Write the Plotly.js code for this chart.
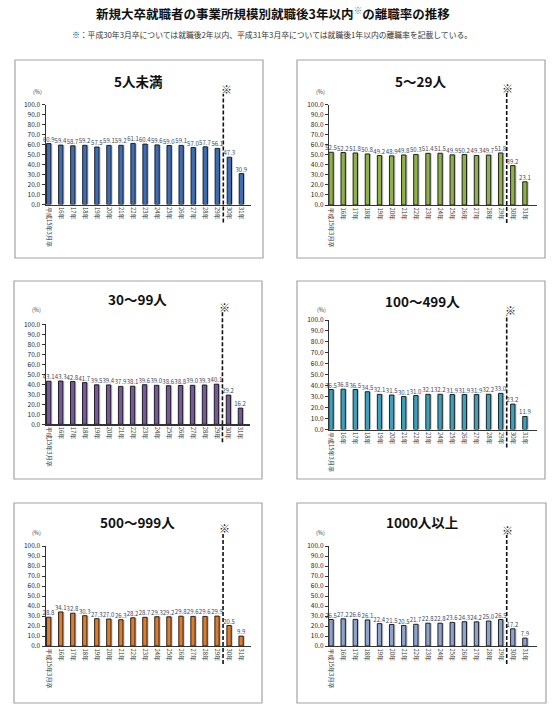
<!DOCTYPE html>
<html>
<head>
<meta charset="utf-8">
<script src="https://cdn.plot.ly/plotly-3.0.1.min.js"></script>
<style>
html,body{margin:0;padding:0;background:#fff;}
#chart{width:555px;height:714px;}
</style>
</head>
<body>
<div id="chart"></div>
<script>
// ---- data ----
const categories = ["平成15年3月卒","16年","17年","18年","19年","20年","21年","22年","23年","24年","25年","26年","27年","28年","29年","30年","31年"];
const panelTitles = ["5人未満","5～29人","30～99人","100～499人","500～999人","1000人以上"];
const rateUnder5   = [60.9,59.4,58.7,59.2,57.5,59.1,59.2,61.1,60.4,59.6,59.0,59.1,57.0,57.7,56.1,47.3,30.9];
const rate5to29    = [52.5,52.2,51.8,50.8,49.2,48.9,49.8,50.3,51.4,51.5,49.9,50.2,49.3,49.7,51.8,39.2,23.1];
const rate30to99   = [43.1,43.3,42.8,41.7,39.5,39.4,37.9,38.1,39.6,39.0,38.6,38.8,39.0,39.3,40.1,29.2,16.2];
const rate100to499 = [36.5,36.8,36.5,34.5,32.1,31.5,30.1,31.0,32.1,32.2,31.9,31.9,31.9,32.2,33.0,23.2,11.9];
const rate500to999 = [28.8,34.1,32.8,30.3,27.3,27.0,26.3,28.2,28.7,29.3,29.2,29.8,29.6,29.6,29.9,20.5,9.9];
const rate1000plus = [26.5,27.2,26.6,26.1,22.4,21.5,20.5,21.7,22.8,22.8,23.6,24.3,24.2,25.0,26.5,17.2,7.9];
const seriesList = [rateUnder5, rate5to29, rate30to99, rate100to499, rate500to999, rate1000plus];
const mainTitle = "新規大卒就職者の事業所規模別就職後3年以内<sup><span style='color:#777'>※</span></sup>の離職率の推移";
const noteText = "※：平成30年3月卒については就職後2年以内、平成31年3月卒については就職後1年以内の離職率を記載している。";

// ---- layout helpers (pixel -> paper) ----
const W = 555, H = 714;
const px = x => x / W;
const py = y => 1 - y / H;
const FONT = '"Noto Sans CJK JP", "Noto Sans", sans-serif';

const colors = ["#3f6db3", "#8fb04a", "#76599c", "#3fa0bb", "#dc7c2e", "#8ea3cc"];
// panel geometry in pixels
const panels = [
  {box:[15,60,263,258],  xd:[45.7,251], y0:204.5, y100:104.5, xr:[-0.25,16.8], title:[138,81],  pct:[37,92],  mark:[226,89]},
  {box:[297,60,545,258], xd:[329,537],  y0:205,   y100:104.5, xr:[-0.17,17.0], title:[420,81],  pct:[320,92], mark:[507,88]},
  {box:[14,281,262,479], xd:[45.7,250], y0:424.3, y100:324.3, xr:[-0.25,16.8], title:[137,299], pct:[36,310], mark:[224,307]},
  {box:[297,281,545,479],xd:[329,537],  y0:429.5, y100:320,   xr:[-0.17,17.0], title:[422,301], pct:[321,310],mark:[510,310]},
  {box:[14,503,262,703], xd:[45.7,250.7],y0:646,  y100:546,   xr:[-0.25,16.8], title:[137,522], pct:[36,533], mark:[224,528]},
  {box:[297,503,546,703],xd:[329,537],  y0:646,   y100:546,   xr:[-0.17,17.0], title:[422,522], pct:[320,533],mark:[507,530]}
];

const tickIdx = categories.map((c,i)=>i);
const traces = [];
const layout = {
  width: W, height: H,
  margin: {l:0, r:0, t:0, b:0},
  paper_bgcolor: '#fff', plot_bgcolor: 'rgba(0,0,0,0)',
  showlegend: false,
  barmode: 'overlay',
  font: {family: FONT, color: '#222'},
  shapes: [], annotations: []
};

const BW = 0.36;
panels.forEach((p, k) => {
  const n = k + 1;
  const xa = n === 1 ? 'x' : 'x' + n;
  const ya = n === 1 ? 'y' : 'y' + n;
  const vals = seriesList[k];
  // shadow
  traces.push({
    type: 'bar', x: tickIdx, y: vals, xaxis: xa, yaxis: ya,
    width: BW, offset: -BW/2 + 0.13,
    marker: {color: '#c9c9c9', line: {width: 0}},
    hoverinfo: 'skip'
  });
  // main
  traces.push({
    type: 'bar', x: tickIdx, y: vals, xaxis: xa, yaxis: ya,
    width: BW, offset: -BW/2,
    marker: {color: colors[k], line: {color: '#111', width: 0.9}},
    text: vals.map(v => v.toFixed(1)), textposition: 'outside',
    constraintext: 'none', cliponaxis: false,
    textfont: {size: 6, color: '#3d4866', family: FONT}
  });
  const xKey = n === 1 ? 'xaxis' : 'xaxis' + n;
  const yKey = n === 1 ? 'yaxis' : 'yaxis' + n;
  layout[xKey] = {
    domain: [px(p.xd[0]), px(p.xd[1])], anchor: ya, range: p.xr,
    tickmode: 'array', tickvals: tickIdx, ticktext: categories,
    tickangle: 90, tickfont: {size: 6, color: '#333', family: FONT},
    showline: true, linecolor: '#333', linewidth: 1.2,
    ticks: '', showgrid: false, zeroline: false, fixedrange: true
  };
  layout[yKey] = {
    domain: [py(p.y0), py(p.y100)], anchor: xa, range: [0, 100],
    dtick: 10, tick0: 0, tickformat: '.1f',
    tickfont: {size: 6.5, color: '#222', family: FONT},
    showline: true, linecolor: '#333', linewidth: 1.2,
    ticks: 'outside', ticklen: 3, tickcolor: '#333',
    showgrid: false, zeroline: false, fixedrange: true
  };
  // panel border
  layout.shapes.push({
    type: 'rect', xref: 'paper', yref: 'paper', layer: 'below',
    x0: px(p.box[0]), x1: px(p.box[2]), y0: py(p.box[3]), y1: py(p.box[1]),
    line: {color: '#a3a3a3', width: 1.2}, fillcolor: 'rgba(0,0,0,0)'
  });
  // dashed divider between 29年 and 30年
  layout.shapes.push({
    type: 'line', xref: xa, yref: 'paper', layer: 'above',
    x0: 14.5, x1: 14.5, y0: py(p.y0 + 18), y1: py(p.mark[1] + 5),
    line: {color: '#111', width: 1.6, dash: '4px,2px'}
  });
  layout.annotations.push({
    xref: 'paper', yref: 'paper', x: px(p.title[0]), y: py(p.title[1]),
    text: '<b>' + panelTitles[k] + '</b>', showarrow: false,
    xanchor: 'center', yanchor: 'middle',
    font: {size: 13.5, color: '#111', family: FONT}
  });
  layout.annotations.push({
    xref: 'paper', yref: 'paper', x: px(p.pct[0]), y: py(p.pct[1]),
    text: '(%)', showarrow: false, xanchor: 'center', yanchor: 'middle',
    font: {size: 5.5, color: '#333', family: FONT}
  });
  layout.annotations.push({
    xref: 'paper', yref: 'paper', x: px(p.mark[0]), y: py(p.mark[1]),
    text: '※', showarrow: false, xanchor: 'center', yanchor: 'middle',
    font: {size: 11, color: '#222', family: FONT}
  });
});

layout.annotations.push({
  xref: 'paper', yref: 'paper', x: px(273), y: py(13),
  text: '<b>' + mainTitle + '</b>', showarrow: false,
  xanchor: 'center', yanchor: 'middle',
  font: {size: 12.5, color: '#111', family: FONT}
});
layout.annotations.push({
  xref: 'paper', yref: 'paper', x: px(272), y: py(34),
  text: noteText, showarrow: false, xanchor: 'center', yanchor: 'middle',
  font: {size: 7.8, color: '#333', family: FONT}
});

Plotly.newPlot('chart', traces, layout, {staticPlot: true, displayModeBar: false});
</script>
</body>
</html>
